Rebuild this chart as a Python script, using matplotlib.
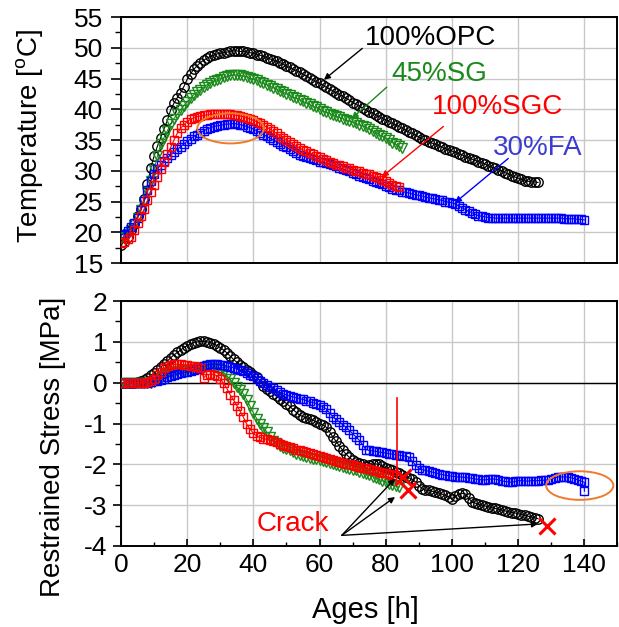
"""Temperature history and restrained stress of four concrete mixes."""

import numpy as np
import matplotlib
matplotlib.use("Agg")
import matplotlib.pyplot as plt          # noqa: E402
from matplotlib.patches import Ellipse   # noqa: E402
from matplotlib.ticker import MultipleLocator  # noqa: E402

plt.rcParams["font.family"] = ["Liberation Sans", "DejaVu Sans"]
plt.rcParams["mathtext.default"] = "regular"
plt.rcParams["axes.unicode_minus"] = False

# ---- data (hourly readings) ----
temp_opc = [17.9, 18.5, 19.3, 20.3, 21.4, 22.6, 23.8, 25.4, 27.8, 30.5,
            32.4, 34.0, 35.4, 36.8, 38.2, 39.9, 41.0, 41.9, 42.7, 43.7,
            44.9, 45.8, 46.5, 47.1, 47.6, 48.0, 48.3, 48.6, 48.8, 49.0,
            49.1, 49.2, 49.3, 49.4, 49.5, 49.5, 49.4, 49.4, 49.3, 49.2,
            49.1, 48.9, 48.8, 48.6, 48.4, 48.2, 48.0, 47.8, 47.6, 47.3,
            47.0, 46.8, 46.5, 46.3, 46.0, 45.7, 45.4, 45.1, 44.8, 44.5,
            44.2, 43.9, 43.6, 43.3, 43.0, 42.7, 42.4, 42.1, 41.8, 41.5,
            41.1, 40.8, 40.5, 40.2, 39.9, 39.6, 39.4, 39.1, 38.8, 38.5,
            38.3, 38.0, 37.7, 37.4, 37.2, 36.9, 36.6, 36.3, 36.1, 35.8,
            35.5, 35.2, 35.0, 34.7, 34.5, 34.3, 34.1, 33.8, 33.6, 33.4,
            33.2, 33.0, 32.8, 32.6, 32.3, 32.1, 31.9, 31.7, 31.5, 31.3,
            31.1, 30.8, 30.6, 30.4, 30.2, 30.0, 29.7, 29.5, 29.2, 29.0,
            28.8, 28.6, 28.4, 28.3, 28.2, 28.2, 28.1]
temp_sg = [19.0, 19.3, 19.7, 20.3, 21.2, 22.3, 23.6, 25.0, 26.6, 28.3,
           30.2, 32.4, 34.3, 35.4, 36.5, 37.6, 38.5, 39.2, 39.9, 40.6,
           41.2, 41.8, 42.4, 42.8, 43.2, 43.6, 44.0, 44.3, 44.6, 44.8,
           45.0, 45.2, 45.4, 45.5, 45.6, 45.6, 45.5, 45.4, 45.3, 45.1,
           44.9, 44.7, 44.5, 44.3, 44.0, 43.8, 43.5, 43.3, 43.0, 42.8,
           42.5, 42.3, 42.0, 41.8, 41.5, 41.3, 41.0, 40.8, 40.5, 40.3,
           40.0, 39.8, 39.5, 39.3, 39.1, 38.9, 38.7, 38.5, 38.3, 38.1,
           37.9, 37.7, 37.5, 37.3, 37.1, 36.8, 36.5, 36.2, 35.9, 35.6,
           35.3, 35.0, 34.6, 34.3, 34.0, 33.7]
temp_sgc = [18.3, 18.5, 18.9, 19.3, 20.4, 21.5, 22.6, 23.8, 25.2, 26.5,
            27.7, 29.0, 30.3, 31.5, 32.7, 33.8, 35.0, 36.1, 36.9, 37.5,
            38.0, 38.4, 38.6, 38.8, 38.9, 39.0, 39.1, 39.2, 39.2, 39.3,
            39.3, 39.3, 39.2, 39.2, 39.1, 39.0, 38.9, 38.8, 38.6, 38.4,
            38.2, 38.0, 37.7, 37.4, 37.1, 36.8, 36.4, 36.1, 35.7, 35.4,
            35.0, 34.7, 34.3, 34.0, 33.7, 33.4, 33.2, 32.9, 32.7, 32.4,
            32.2, 31.9, 31.7, 31.4, 31.2, 31.0, 30.9, 30.7, 30.5, 30.4,
            30.2, 30.0, 29.9, 29.7, 29.5, 29.4, 29.2, 29.0, 28.8, 28.5,
            28.3, 28.0, 27.7, 27.5, 27.3]
temp_fa = [19.5, 19.8, 20.2, 20.8, 21.5, 22.4, 23.6, 25.1, 26.8, 28.4,
           29.4, 30.3, 31.0, 31.6, 32.1, 32.6, 33.1, 33.5, 33.9, 34.4,
           34.8, 35.2, 35.6, 35.9, 36.2, 36.5, 36.8, 37.0, 37.2, 37.3,
           37.4, 37.5, 37.6, 37.6, 37.7, 37.6, 37.5, 37.4, 37.2, 37.0,
           36.8, 36.5, 36.2, 35.9, 35.6, 35.3, 35.0, 34.7, 34.4, 34.1,
           33.8, 33.5, 33.2, 32.9, 32.6, 32.4, 32.2, 32.0, 31.9, 31.7,
           31.5, 31.4, 31.2, 31.1, 30.9, 30.7, 30.5, 30.3, 30.1, 29.9,
           29.6, 29.4, 29.2, 29.0, 28.8, 28.6, 28.4, 28.2, 28.0, 27.8,
           27.5, 27.3, 27.1, 26.9, 26.8, 26.6, 26.5, 26.4, 26.2, 26.1,
           26.0, 25.9, 25.7, 25.6, 25.5, 25.4, 25.3, 25.2, 25.0, 24.9,
           24.8, 24.6, 24.3, 24.0, 23.7, 23.4, 23.2, 22.9, 22.7, 22.6,
           22.5, 22.4, 22.4, 22.3, 22.3, 22.3, 22.3, 22.3, 22.3, 22.3,
           22.3, 22.3, 22.3, 22.3, 22.3, 22.3, 22.3, 22.3, 22.3, 22.3,
           22.3, 22.3, 22.3, 22.3, 22.2, 22.2, 22.2, 22.2, 22.1, 22.1,
           22.0]

stress_opc = [0.0, 0.0, 0.0, 0.0, 0.0, 0.01, 0.03, 0.07, 0.12, 0.18,
              0.24, 0.31, 0.38, 0.45, 0.53, 0.61, 0.68, 0.74, 0.80, 0.86,
              0.91, 0.95, 0.98, 1.00, 1.01, 1.01, 1.00, 0.98, 0.95, 0.91,
              0.86, 0.80, 0.73, 0.65, 0.57, 0.50, 0.44, 0.38, 0.32, 0.26,
              0.20, 0.13, 0.05, -0.08, -0.15, -0.21, -0.27, -0.33, -0.39, -0.45,
              -0.51, -0.58, -0.66, -0.73, -0.80, -0.83, -0.86, -0.89, -0.92, -0.96,
              -1.00, -1.04, -1.09, -1.20, -1.33, -1.44, -1.55, -1.66, -1.75, -1.83,
              -1.90, -1.94, -1.97, -2.00, -2.03, -2.02, -2.00, -1.99, -2.00, -2.05,
              -2.09, -2.12, -2.15, -2.18, -2.21, -2.25, -2.30, -2.33, -2.37, -2.43,
              -2.52, -2.60, -2.63, -2.64, -2.66, -2.68, -2.70, -2.73, -2.76, -2.80,
              -2.84, -2.78, -2.73, -2.71, -2.72, -2.82, -2.92, -2.95, -2.98, -3.00,
              -3.02, -3.04, -3.06, -3.08, -3.10, -3.12, -3.14, -3.16, -3.18, -3.19,
              -3.21, -3.23, -3.25, -3.27, -3.29, -3.31, -3.33]
stress_sg = [0.0, 0.0, 0.0, 0.0, 0.0, 0.0, 0.0, 0.0, 0.0, 0.0,
             0.02, 0.06, 0.11, 0.16, 0.21, 0.24, 0.26, 0.28, 0.29, 0.30,
             0.31, 0.32, 0.33, 0.34, 0.36, 0.39, 0.41, 0.42, 0.40, 0.37,
             0.32, 0.25, 0.17, 0.08, -0.02, -0.10, -0.18, -0.28, -0.42, -0.58,
             -0.74, -0.88, -1.00, -1.10, -1.20, -1.32, -1.42, -1.50, -1.55, -1.59,
             -1.62, -1.66, -1.70, -1.74, -1.78, -1.80, -1.82, -1.84, -1.86, -1.88,
             -1.90, -1.92, -1.94, -1.96, -1.99, -2.01, -2.03, -2.06, -2.08, -2.11,
             -2.13, -2.15, -2.18, -2.20, -2.23, -2.26, -2.30, -2.33, -2.37, -2.40,
             -2.44, -2.47, -2.50, -2.53, -2.56]
stress_sgc = [0.0, 0.0, 0.0, 0.0, 0.0, 0.0, 0.0, 0.0, 0.01, 0.04,
              0.10, 0.18, 0.27, 0.35, 0.41, 0.44, 0.45, 0.45, 0.45, 0.44,
              0.43, 0.42, 0.41, 0.39, 0.37, 0.12, 0.20, 0.21, 0.20, 0.17,
              0.10, -0.02, -0.14, -0.30, -0.42, -0.56, -0.70, -0.85, -1.02, -1.14,
              -1.24, -1.31, -1.34, -1.37, -1.39, -1.41, -1.43, -1.46, -1.49, -1.52,
              -1.55, -1.58, -1.61, -1.64, -1.66, -1.68, -1.70, -1.72, -1.75, -1.77,
              -1.80, -1.82, -1.85, -1.87, -1.90, -1.92, -1.94, -1.96, -1.98, -2.00,
              -2.02, -2.04, -2.06, -2.08, -2.10, -2.12, -2.14, -2.16, -2.18, -2.20,
              -2.22, -2.24, -2.26, -2.28]
stress_fa = [0.0, 0.0, 0.0, 0.0, 0.0, 0.0, 0.0, 0.0, 0.0, 0.01,
             0.03, 0.05, 0.07, 0.10, 0.13, 0.16, 0.19, 0.21, 0.23, 0.25,
             0.27, 0.29, 0.31, 0.34, 0.37, 0.41, 0.44, 0.45, 0.45, 0.45,
             0.44, 0.43, 0.41, 0.39, 0.37, 0.34, 0.31, 0.28, 0.24, 0.20,
             0.16, 0.11, 0.05, 0.00, -0.05, -0.10, -0.14, -0.19, -0.24, -0.27,
             -0.30, -0.33, -0.35, -0.37, -0.39, -0.41, -0.44, -0.46, -0.49, -0.51,
             -0.55, -0.59, -0.64, -0.74, -0.84, -0.90, -0.96, -1.03, -1.09, -1.17,
             -1.25, -1.33, -1.41, -1.52, -1.64, -1.66, -1.67, -1.68, -1.70, -1.71,
             -1.72, -1.74, -1.75, -1.76, -1.77, -1.79, -1.80, -1.82, -1.92, -2.02,
             -2.10, -2.13, -2.15, -2.17, -2.19, -2.21, -2.23, -2.25, -2.27, -2.28,
             -2.29, -2.30, -2.31, -2.31, -2.32, -2.33, -2.34, -2.36, -2.37, -2.38,
             -2.38, -2.37, -2.36, -2.36, -2.38, -2.40, -2.42, -2.43, -2.44, -2.42,
             -2.40, -2.40, -2.41, -2.41, -2.40, -2.40, -2.40, -2.39, -2.39, -2.38,
             -2.36, -2.33, -2.31, -2.31, -2.31, -2.31, -2.33, -2.35, -2.38, -2.41,
             -2.44, -2.66]
stress_fa_hours = list(range(141)) + [140]

crack_age = [85.3, 86.8, 128.6]
crack_stress = [-2.31, -2.64, -3.50]

GREEN = "#1a8a1a"
BLUE = "#0000ff"
RED = "#ff0000"
ORANGE = "#f07a2a"

series = [  # key, colour, marker, size
    ("OPC", "black", "o", 6.8),
    ("SG", GREEN, "v", 6.8),
    ("FA", BLUE, "s", 5.4),
    ("SGC", RED, "s", 5.4),
]
temps = {"OPC": temp_opc, "SG": temp_sg, "FA": temp_fa, "SGC": temp_sgc}
stresses = {"OPC": (list(range(len(stress_opc))), stress_opc),
            "SG": (list(range(len(stress_sg))), stress_sg),
            "FA": (stress_fa_hours, stress_fa),
            "SGC": (list(range(len(stress_sgc))), stress_sgc)}

fig = plt.figure(figsize=(6.19, 6.27), dpi=100)
ax1 = fig.add_axes([0.1955, 0.5805, 0.802, 0.3923])
ax2 = fig.add_axes([0.1955, 0.1292, 0.802, 0.3907])

for key, c, m, ms in series:
    t = temps[key]
    ax1.plot(range(len(t)), t, color=c, marker=m, ms=ms, mfc="none", mec=c,
             mew=1.0, lw=0.8, zorder=3)
    h, s = stresses[key]
    ax2.plot(h, s, color=c, marker=m, ms=ms, mfc="none", mec=c,
             mew=1.0, lw=0.8, zorder=3)

# ---- top panel ----
ax1.set_xlim(0, 150)
ax1.set_ylim(15, 55)
ax1.xaxis.set_major_locator(MultipleLocator(20))
ax1.yaxis.set_major_locator(MultipleLocator(5))
ax1.yaxis.set_minor_locator(MultipleLocator(2.5))
ax1.grid(True, color="#c8c8c8", lw=1.0, zorder=0)
ax1.set_axisbelow(True)
ax1.tick_params(axis="x", which="both", bottom=False, labelbottom=False)
ax1.tick_params(axis="y", which="major", direction="out", length=7, width=1.2,
                labelsize=19, pad=6)
ax1.tick_params(axis="y", which="minor", direction="out", length=4, width=1.0)
fig.text(0.047, 0.783, "Temperature [$^{o}$C]", fontsize=20, rotation=90,
         ha="center", va="center")

ax1.text(73.7, 51.6, "100%OPC", fontsize=20, color="black", va="center")
ax1.text(81.8, 45.7, "45%SG", fontsize=20, color=GREEN, va="center")
ax1.text(93.9, 40.3, "100%SGC", fontsize=20, color=RED, va="center")
ax1.text(112.5, 33.7, "30%FA", fontsize=20, color="#3c3cd0", va="center")
for (x0, y0, x1, y1, c) in [(72.9, 49.9, 61.3, 44.8, "black"),
                            (80.3, 43.6, 69.7, 38.5, GREEN),
                            (97.4, 37.2, 78.8, 29.0, RED),
                            (117.0, 32.0, 100.9, 24.8, BLUE)]:
    ax1.annotate("", xy=(x1, y1), xytext=(x0, y0),
                 arrowprops=dict(arrowstyle="-|>", color=c, lw=1.0,
                                 mutation_scale=9, shrinkA=0, shrinkB=0))
ax1.add_patch(Ellipse((33.1, 36.9), 20.1, 4.9, fill=False, ec=ORANGE,
                      lw=1.4, zorder=4))

# ---- bottom panel ----
ax2.set_xlim(0, 150)
ax2.set_ylim(-4, 2)
ax2.xaxis.set_major_locator(MultipleLocator(20))
ax2.xaxis.set_minor_locator(MultipleLocator(10))
ax2.yaxis.set_major_locator(MultipleLocator(1))
ax2.yaxis.set_minor_locator(MultipleLocator(0.5))
ax2.grid(True, color="#c8c8c8", lw=1.0, zorder=0)
ax2.set_axisbelow(True)
ax2.axhline(0, color="black", lw=1.0, zorder=2)
ax2.tick_params(axis="x", which="major", direction="in", length=5, width=1.2,
                labelsize=19, pad=5)
ax2.tick_params(axis="x", which="minor", direction="in", length=3, width=1.0)
ax2.tick_params(axis="y", which="major", direction="out", length=6, width=1.2,
                labelsize=19, pad=4)
ax2.tick_params(axis="y", which="minor", direction="out", length=4, width=1.0)
fig.text(0.086, 0.287, "Restrained Stress [MPa]", fontsize=20, rotation=90,
         ha="center", va="center")
fig.text(0.59, 0.027, "Ages [h]", fontsize=21, ha="center", va="center")

ax2.plot([83.3, 83.3], [-0.37, -2.31], color=RED, lw=1.2, zorder=4)
ax2.plot(crack_age, crack_stress, ls="none", marker="x", ms=12, mew=2.2,
         color=RED, zorder=5)
ax2.text(41.0, -3.47, "Crack", fontsize=20, color=RED, va="center")
for (x1, y1) in [(82.8, -2.35), (82.8, -2.80), (126.0, -3.46)]:
    ax2.annotate("", xy=(x1, y1), xytext=(66.7, -3.74),
                 arrowprops=dict(arrowstyle="-|>", color="black", lw=1.0,
                                 mutation_scale=9, shrinkA=0, shrinkB=0))
ax2.add_patch(Ellipse((138.6, -2.52), 20.3, 0.70, fill=False, ec=ORANGE,
                      lw=1.4, zorder=4))

for ax in (ax1, ax2):
    for sp in ax.spines.values():
        sp.set_linewidth(1.4)

fig.savefig("out.png", dpi=100)
plt.close(fig)
